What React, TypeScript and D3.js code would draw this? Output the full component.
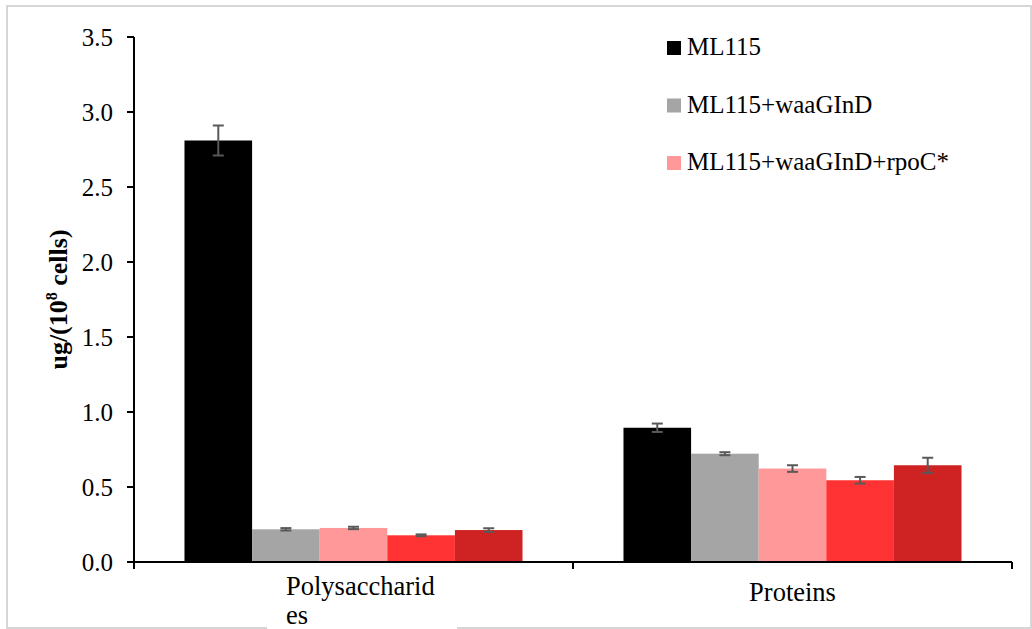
import React from "react";
import * as d3 from "d3";

const categories = ["Polysaccharides", "Proteins"];
const seriesNames = ["ML115", "ML115+waaGInD", "ML115+waaGInD+rpoC*", "Series 4", "Series 5"];
const seriesColors = ["#000000", "#a5a5a5", "#ff9999", "#ff3333", "#cf2222"];
const legendCount = 3;
// values[series][category]
const ml115 = [2.81, 0.895];
const ml115Waa = [0.218, 0.722];
const ml115WaaRpo = [0.227, 0.623];
const series4 = [0.178, 0.545];
const series5 = [0.213, 0.645];
const errML115 = [0.1, 0.028];
const errWaa = [0.008, 0.01];
const errWaaRpo = [0.008, 0.022];
const errS4 = [0.006, 0.022];
const errS5 = [0.012, 0.05];
const yTicks = [0, 0.5, 1.0, 1.5, 2.0, 2.5, 3.0, 3.5];

const values = [ml115, ml115Waa, ml115WaaRpo, series4, series5];
const errors = [errML115, errWaa, errWaaRpo, errS4, errS5];

const W = 1032;
const H = 629;
const left = 134;
const right = 1012;
const top = 37;
const bottom = 562;
const FONT = "Liberation Serif, Times New Roman, DejaVu Serif, serif";

export default function App() {
  const y = d3.scaleLinear().domain([0, 3.5]).range([bottom, top]);
  const x0 = d3.scaleBand<string>().domain(categories).range([left, right]).padding(0);
  const bw = x0.bandwidth();
  const x1 = d3
    .scaleBand<number>()
    .domain(d3.range(seriesNames.length))
    .range([bw * 0.115, bw * 0.885])
    .padding(0);
  const capW = 11;

  return (
    <div style={{ position: "absolute", left: 0, top: 0, width: W, height: H, overflow: "hidden" }}>
      <svg width={W} height={H} style={{ display: "block" }} fontFamily={FONT}>
        <rect x={0} y={0} width={W} height={H} fill="#fff" />
        <rect x={7} y={6} width={1024} height={622} fill="none" stroke="#d6d6d6" strokeWidth={2} />
        {/* bars */}
        {categories.map((c, ci) => (
          <g key={c} transform={`translate(${x0(c)},0)`}>
            {values.map((vals, si) => (
              <rect
                key={si}
                x={x1(si)}
                y={y(vals[ci])}
                width={x1.bandwidth()}
                height={y(0) - y(vals[ci])}
                fill={seriesColors[si]}
              />
            ))}
            {values.map((vals, si) => {
              const cx = (x1(si) as number) + x1.bandwidth() / 2;
              const hi = y(vals[ci] + errors[si][ci]);
              const lo = y(vals[ci] - errors[si][ci]);
              return (
                <g key={"e" + si} stroke="#595959" strokeWidth={2} fill="none">
                  <line x1={cx} x2={cx} y1={hi} y2={lo} />
                  <line x1={cx - capW / 2} x2={cx + capW / 2} y1={hi} y2={hi} />
                  <line x1={cx - capW / 2} x2={cx + capW / 2} y1={lo} y2={lo} />
                </g>
              );
            })}
          </g>
        ))}
        {/* y axis */}
        <line x1={left} x2={left} y1={y(3.5)} y2={bottom + 7} stroke="#000" strokeWidth={2} />
        {yTicks.map((t) => (
          <g key={t}>
            <line x1={left - 7} x2={left} y1={y(t)} y2={y(t)} stroke="#000" strokeWidth={2} />
            <text x={left - 21} y={y(t)} dy="0.34em" textAnchor="end" fontSize={25} fontFamily={FONT} fill="#000">
              {t.toFixed(1)}
            </text>
          </g>
        ))}
        {/* x axis */}
        <line x1={left} x2={right} y1={bottom} y2={bottom} stroke="#000" strokeWidth={2} />
        {[...categories.map((c) => x0(c) as number), right].map((tx, i) => (
          <line key={i} x1={tx} x2={tx} y1={bottom} y2={bottom + 7} stroke="#000" strokeWidth={2} />
        ))}
        {/* category labels */}
        <rect x={267} y={563} width={190} height={70} fill="#fff" />
        <text x={286} y={595} fontSize={26.5} fontFamily={FONT} fill="#000">Polysaccharid</text>
        <text x={286} y={624} fontSize={26.5} fontFamily={FONT} fill="#000">es</text>
        <text x={(x0("Proteins") as number) + bw / 2} y={601} fontSize={26.5} fontFamily={FONT} textAnchor="middle" fill="#000">
          Proteins
        </text>
        {/* y label */}
        <text
          transform={`translate(67,${(top + bottom) / 2}) rotate(-90)`}
          textAnchor="middle"
          fontSize={26}
          fontWeight="bold"
          fontFamily={FONT}
          fill="#000"
        >
          ug/(10
          <tspan dy={-10} fontSize={16}>8</tspan>
          <tspan dy={10}> cells)</tspan>
        </text>
        {/* legend */}
        {seriesNames.slice(0, legendCount).map((n, i) => (
          <g key={n} transform={`translate(667,${41 + i * 57.5})`}>
            <rect x={0} y={0} width={14} height={14} fill={seriesColors[i]} />
            <text x={20} y={14} fontSize={25} fontFamily={FONT} fill="#000">
              {n}
            </text>
          </g>
        ))}
      </svg>
    </div>
  );
}
